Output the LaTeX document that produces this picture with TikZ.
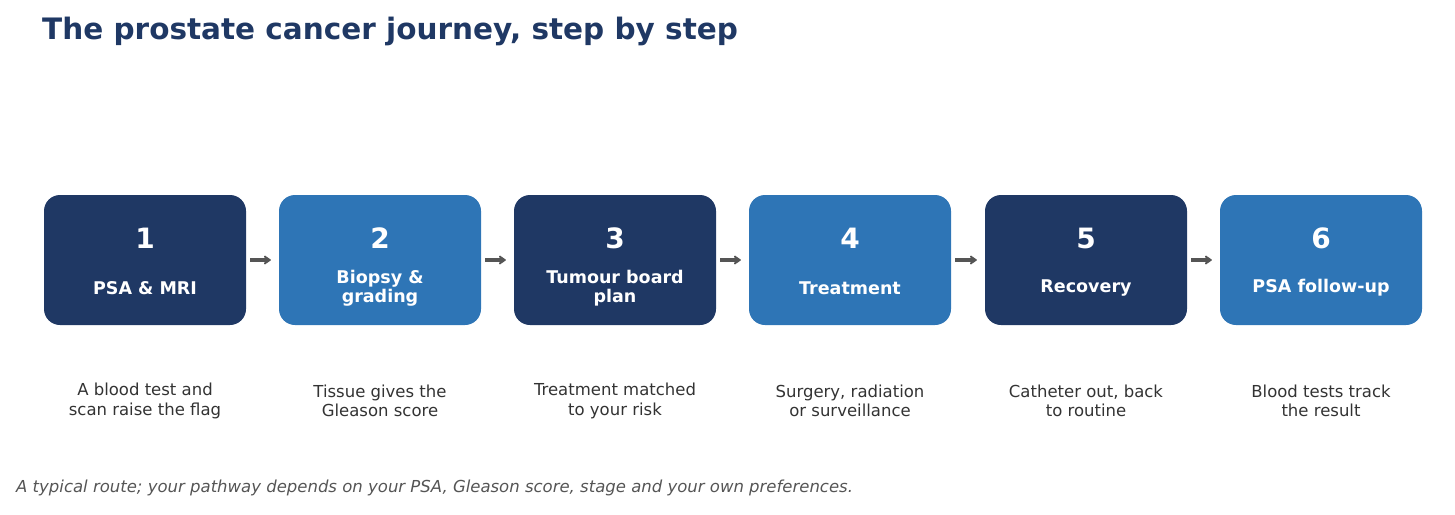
\documentclass[tikz,border=0pt]{standalone}
\usepackage{fontspec}
\setmainfont{DejaVu Sans}
\usetikzlibrary{arrows.meta}
\definecolor{dark}{HTML}{1F3864}
\definecolor{mid}{HTML}{2E75B6}
\definecolor{txt}{HTML}{333333}
\definecolor{gr}{HTML}{555555}
\begin{document}
\begin{tikzpicture}[x=1pt,y=-1pt,
 box/.style={rounded corners=16pt,minimum width=202pt,minimum height=130pt,inner sep=0pt},
 num/.style={text=white,font=\fontsize{28}{30}\selectfont\bfseries},
 lab/.style={text=white,font=\fontsize{17.5}{19.5}\selectfont\bfseries,align=center},
 desc/.style={text=txt,font=\fontsize{16.5}{19.5}\selectfont,align=center},
 arr/.style={draw=gr,line width=3.5pt,-{Stealth[length=8pt,width=11pt,inset=2pt,round]}}]
\useasboundingbox (0,0) rectangle (1455,514);
\node[anchor=west,text=dark,font=\fontsize{29.5}{33}\selectfont\bfseries,inner sep=0pt] (title) at (42,31) {The prostate cancer journey, step by step};
\foreach \i/\x/\c/\l/\d in {1/145/dark/{PSA \& MRI}/{A blood test and\\scan raise the flag},
 2/380/mid/{Biopsy \&\\grading}/{Tissue gives the\\Gleason score},
 3/615/dark/{Tumour board\\plan}/{Treatment matched\\to your risk},
 4/850/mid/{Treatment}/{Surgery, radiation\\or surveillance},
 5/1086/dark/{Recovery}/{Catheter out, back\\to routine},
 6/1321/mid/{PSA follow-up}/{Blood tests track\\the result}}{
 \node[box,fill=\c] (b\i) at (\x,260) {};
 \node[num] (n\i) at (\x,238) {\i};
 \node[lab] (l\i) at (\x,288) {\l};
 \node[desc] (d\i) at (\x,401) {\d};
}
\foreach \a/\b in {1/2,2/3,3/4,4/5,5/6}{
 \draw[arr] ([xshift=4pt]b\a.east) -- ([xshift=-8pt]b\b.west);
}
\node[anchor=west,text=gr,font=\fontsize{16.5}{19}\selectfont\itshape,inner sep=0pt] (foot) at (16,488) {A typical route; your pathway depends on your PSA, Gleason score, stage and your own preferences.};
\end{tikzpicture}
\end{document}
